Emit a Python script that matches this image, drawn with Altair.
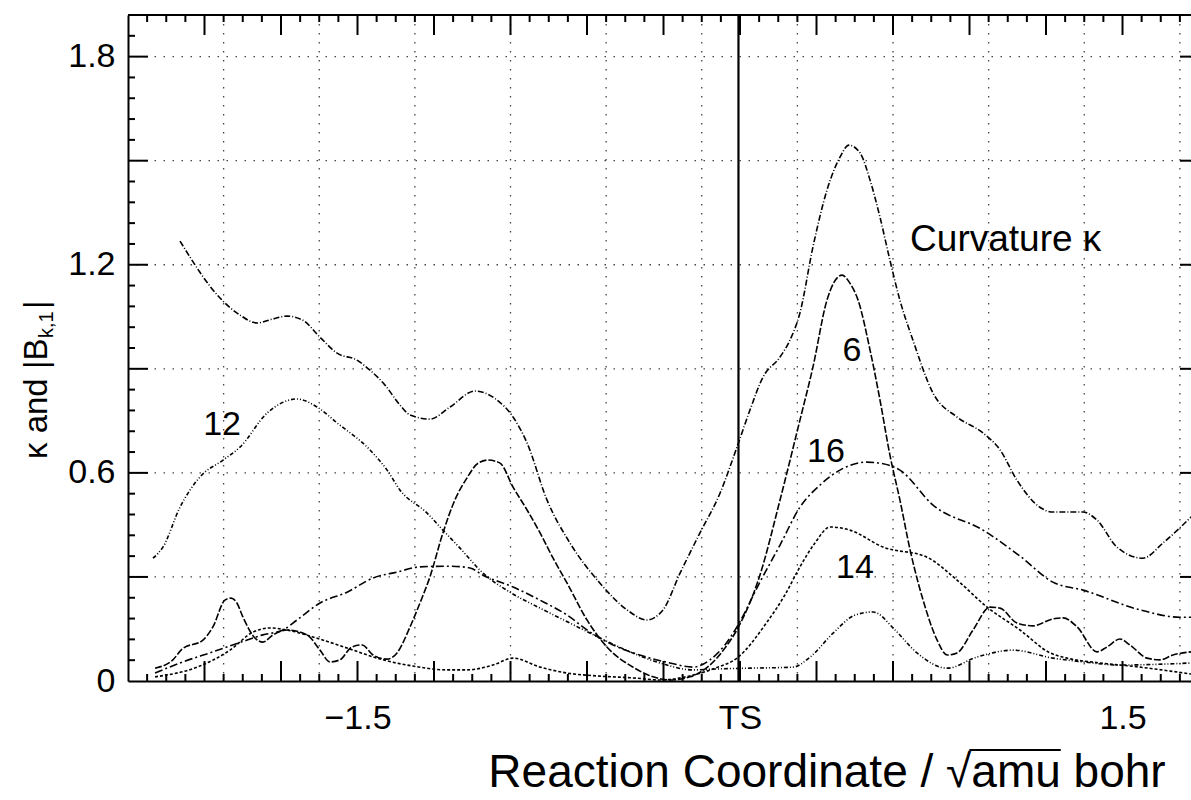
import altair as alt
import pandas as pd

FONT = "Liberation Sans"

# ---------------- data ----------------
kappa_x = [-2.196, -2.039, -1.961, -1.894, -1.835, -1.776, -1.714, -1.647, -1.580, -1.502,
           -1.451, -1.392, -1.333, -1.294, -1.216, -1.137, -1.039, -0.953, -0.890, -0.835,
           -0.757, -0.667, -0.549, -0.443, -0.365, -0.302, -0.235, -0.157, -0.078, -0.012,
           0.039, 0.090, 0.157, 0.196, 0.235, 0.286, 0.341, 0.392, 0.427, 0.471,
           0.510, 0.549, 0.588, 0.627, 0.678, 0.757, 0.851, 0.953, 1.020, 1.086,
           1.176, 1.227, 1.345, 1.400, 1.478, 1.580, 1.659, 1.769]
kappa_y = [1.268, 1.104, 1.055, 1.032, 1.043, 1.052, 1.040, 0.991, 0.945, 0.925,
           0.896, 0.853, 0.795, 0.767, 0.755, 0.790, 0.836, 0.810, 0.761, 0.686,
           0.522, 0.398, 0.282, 0.205, 0.176, 0.205, 0.311, 0.427, 0.542, 0.674,
           0.781, 0.876, 0.934, 0.983, 1.061, 1.251, 1.415, 1.510, 1.545, 1.522,
           1.444, 1.337, 1.213, 1.098, 0.983, 0.830, 0.761, 0.715, 0.666, 0.579,
           0.501, 0.487, 0.487, 0.464, 0.386, 0.354, 0.398, 0.473]

b12_x = [-2.302, -2.263, -2.196, -2.118, -2.027, -1.961, -1.855, -1.737, -1.659, -1.580,
         -1.451, -1.384, -1.333, -1.227, -1.165, -1.098, -1.008, -0.902, -0.784, -0.667,
         -0.549, -0.431, -0.314, -0.184, -0.078, 0.039, 0.208, 0.275, 0.365, 0.451,
         0.522, 0.608, 0.694, 0.812, 0.929, 1.071, 1.227, 1.345, 1.490, 1.769]
b12_y = [0.354, 0.386, 0.501, 0.588, 0.637, 0.674, 0.772, 0.813, 0.790, 0.744,
         0.666, 0.608, 0.550, 0.484, 0.435, 0.383, 0.311, 0.256, 0.210, 0.167,
         0.124, 0.084, 0.052, 0.032, 0.035, 0.037, 0.040, 0.069, 0.138, 0.190,
         0.199, 0.147, 0.081, 0.037, 0.069, 0.089, 0.066, 0.055, 0.046, 0.052]

b6_x = [-2.294, -2.224, -2.188, -2.106, -2.067, -2.020, -1.996, -1.973, -1.949, -1.902,
        -1.871, -1.831, -1.776, -1.698, -1.647, -1.608, -1.569, -1.522, -1.482, -1.439,
        -1.384, -1.345, -1.294, -1.255, -1.216, -1.165, -1.118, -1.071, -1.027, -0.988,
        -0.941, -0.890, -0.835, -0.784, -0.733, -0.678, -0.600, -0.522, -0.420, -0.341,
        -0.275, -0.196, -0.118, -0.059, -0.008, 0.078, 0.157, 0.235, 0.286, 0.341,
        0.369, 0.400, 0.431, 0.463, 0.510, 0.549, 0.588, 0.627, 0.667, 0.718,
        0.773, 0.812, 0.851, 0.914, 0.980, 1.020, 1.086, 1.149, 1.227, 1.267,
        1.322, 1.400, 1.439, 1.490, 1.529, 1.596, 1.647, 1.698, 1.769]
b6_y = [0.037, 0.061, 0.092, 0.118, 0.156, 0.233, 0.239, 0.225, 0.184, 0.124,
        0.112, 0.133, 0.147, 0.133, 0.089, 0.055, 0.061, 0.098, 0.104, 0.075,
        0.063, 0.081, 0.156, 0.225, 0.300, 0.427, 0.522, 0.585, 0.628, 0.637,
        0.628, 0.559, 0.493, 0.427, 0.354, 0.282, 0.176, 0.098, 0.040, 0.012,
        0.003, 0.012, 0.046, 0.095, 0.153, 0.305, 0.522, 0.752, 0.905, 1.098,
        1.150, 1.170, 1.147, 1.098, 0.954, 0.810, 0.651, 0.522, 0.378, 0.233,
        0.118, 0.075, 0.081, 0.147, 0.213, 0.210, 0.167, 0.159, 0.179, 0.182,
        0.156, 0.084, 0.098, 0.121, 0.104, 0.066, 0.061, 0.075, 0.084]

b16_x = [-2.294, -2.196, -2.067, -1.933, -1.871, -1.792, -1.737, -1.647, -1.541, -1.439,
         -1.345, -1.255, -1.137, -1.059, -1.008, -0.890, -0.784, -0.678, -0.588, -0.498,
         -0.380, -0.275, -0.184, -0.118, -0.059, -0.008, 0.078, 0.157, 0.235, 0.314,
         0.392, 0.498, 0.549, 0.627, 0.757, 0.953, 1.098, 1.227, 1.345, 1.569,
         1.725, 1.769]
b16_y = [0.023, 0.052, 0.084, 0.118, 0.133, 0.147, 0.176, 0.225, 0.256, 0.297,
         0.314, 0.329, 0.331, 0.326, 0.305, 0.271, 0.233, 0.190, 0.141, 0.104,
         0.072, 0.052, 0.040, 0.061, 0.104, 0.161, 0.285, 0.392, 0.501, 0.565,
         0.608, 0.631, 0.628, 0.608, 0.507, 0.435, 0.360, 0.285, 0.262, 0.205,
         0.184, 0.184]

b14_x = [-2.294, -2.129, -2.000, -1.910, -1.843, -1.776, -1.675, -1.541, -1.400, -1.282,
         -1.149, -1.071, -0.969, -0.890, -0.784, -0.678, -0.549, -0.420, -0.314, -0.184,
         -0.098, -0.012, 0.106, 0.176, 0.235, 0.294, 0.353, 0.431, 0.561, 0.733,
         0.851, 0.969, 1.098, 1.216, 1.282, 1.412, 1.569, 1.769]
b14_y = [0.012, 0.040, 0.089, 0.141, 0.153, 0.147, 0.127, 0.095, 0.061, 0.043,
         0.032, 0.032, 0.046, 0.066, 0.040, 0.023, 0.014, 0.009, 0.003, 0.017,
         0.037, 0.066, 0.170, 0.248, 0.329, 0.398, 0.444, 0.435, 0.386, 0.357,
         0.291, 0.213, 0.147, 0.081, 0.066, 0.052, 0.040, 0.020]

series_names = ["kappa", "12", "6", "16", "14"]
series_dash = [[6, 2, 1, 2], [4, 2, 1, 2, 1, 2], [7, 2], [8, 3, 2, 3], [3, 2]]

# axis labels
x_label_values = [-1.5, 0.0, 1.5]
x_tick_labels = ["\u22121.5", "TS", "1.5"]
y_label_values = [0.0, 0.6, 1.2, 1.8]

# curve annotations
curve_label_text = ["12", "6", "16", "14"]
curve_label_x = [-2.031, 0.439, 0.337, 0.451]
curve_label_y = [0.738, 0.951, 0.660, 0.326]
kappa_label = ["Curvature  \u03ba"]
kappa_label_x = [0.667]
kappa_label_y = [1.271]

# titles
x_title = "Reaction Coordinate / \u221aamu bohr"
y_title_main, y_title_sub, y_title_end = "\u03ba and |B", "k,1", "|"

# grid / tick positions (axis units)
grid_x = [-2.025, -1.65, -1.275, -0.9, -0.525, -0.15, 0.225, 0.6, 0.975, 1.35, 1.725]
grid_y = [0.3, 0.6, 0.9, 1.2, 1.5, 1.8]
x_major = [-2.1, -1.8, -1.5, -1.2, -0.9, -0.6, -0.3, 0.0, 0.3, 0.6, 0.9, 1.2, 1.5]
y_major = [0.3, 0.6, 0.9, 1.2, 1.5, 1.8]

X_DOMAIN = [-2.4, 1.7686]
Y_DOMAIN = [0.0, 1.92]
W, H = 1063, 666
PX_X = W / (X_DOMAIN[1] - X_DOMAIN[0])
PX_Y = H / (Y_DOMAIN[1] - Y_DOMAIN[0])

# ---------------- tables ----------------
frames = []
for name, xs, ys in [("kappa", kappa_x, kappa_y), ("12", b12_x, b12_y), ("6", b6_x, b6_y),
                     ("16", b16_x, b16_y), ("14", b14_x, b14_y)]:
    assert len(xs) == len(ys), name
    frames.append(pd.DataFrame({"x": xs, "y": ys, "series": name, "order": list(range(len(xs)))}))
curves = pd.concat(frames, ignore_index=True)

# tick marks (inward, on the frame)
x_minor = [round(-2.325 + 0.075 * k, 4) for k in range(0, 56)]
x_minor = [v for v in x_minor if v < X_DOMAIN[1] and min(abs(v - m) for m in x_major) > 1e-6]
y_minor = [round(0.06 * k, 4) for k in range(1, 32)]
y_minor = [v for v in y_minor if min(abs(v - m) for m in y_major) > 1e-6]

maj_y_len = 20 / PX_Y
min_y_len = 7 / PX_Y
maj_x_len = 20 / PX_X
min_x_len = 7 / PX_X

xt_rows = []
for v in x_major:
    xt_rows.append({"v": v, "y0": 0.0, "y1": maj_y_len})
    xt_rows.append({"v": v, "y0": Y_DOMAIN[1], "y1": Y_DOMAIN[1] - maj_y_len})
for v in x_minor:
    xt_rows.append({"v": v, "y0": 0.0, "y1": min_y_len})
    xt_rows.append({"v": v, "y0": Y_DOMAIN[1], "y1": Y_DOMAIN[1] - min_y_len})
xticks = pd.DataFrame(xt_rows)

yt_rows = []
for v in y_major:
    yt_rows.append({"v": v, "x0": X_DOMAIN[0], "x1": X_DOMAIN[0] + maj_x_len})
    yt_rows.append({"v": v, "x0": X_DOMAIN[1], "x1": X_DOMAIN[1] - 11 / PX_X})
for v in y_minor:
    yt_rows.append({"v": v, "x0": X_DOMAIN[0], "x1": X_DOMAIN[0] + min_x_len})
yticks = pd.DataFrame(yt_rows)

# ---------------- scales / axes ----------------
label_expr = (f"datum.value < -0.75 ? '{x_tick_labels[0]}' : "
              f"(datum.value < 0.75 ? '{x_tick_labels[1]}' : '{x_tick_labels[2]}')")
xscale = alt.Scale(domain=X_DOMAIN, nice=False, zero=False)
yscale = alt.Scale(domain=Y_DOMAIN, nice=False, zero=False)
xaxis = alt.Axis(values=x_label_values, labelExpr=label_expr, ticks=False, grid=False,
                 domain=True, labelPadding=20, labelFontSize=34, labelFlush=False,
                 labelOverlap=False, title=None)
yaxis = alt.Axis(values=y_label_values, format=".1~f", ticks=False, grid=False,
                 domain=True, labelPadding=13, labelFontSize=34, labelFlush=False,
                 labelOverlap=False, title=None)


def X(field):
    return alt.X(field, type="quantitative", scale=xscale, axis=xaxis, title=None)


def Y(field):
    return alt.Y(field, type="quantitative", scale=yscale, axis=yaxis, title=None)


# ---------------- layers ----------------
grid_v = alt.Chart(pd.DataFrame({"gx": grid_x})).mark_rule(
    color="#444", strokeWidth=1.3, strokeDash=[1.5, 7.5]).encode(x=X("gx"))
grid_h = alt.Chart(pd.DataFrame({"gy": grid_y})).mark_rule(
    color="#444", strokeWidth=1.3, strokeDash=[1.5, 7.5]).encode(y=Y("gy"))

tick_x = alt.Chart(xticks).mark_rule(color="black", strokeWidth=2).encode(
    x=X("v"), y=Y("y0"), y2="y1")
tick_y = alt.Chart(yticks).mark_rule(color="black", strokeWidth=2).encode(
    y=Y("v"), x=X("x0"), x2="x1")

top_frame = alt.Chart(pd.DataFrame({"yt": [Y_DOMAIN[1]]})).mark_rule(
    color="black", strokeWidth=2).encode(y=Y("yt"))
ts_line = alt.Chart(pd.DataFrame({"xts": [-0.006]})).mark_rule(
    color="black", strokeWidth=2.2).encode(x=X("xts"))

lines = alt.Chart(curves).mark_line(interpolate="monotone", color="black", strokeWidth=1.6).encode(
    x=X("x"), y=Y("y"), order="order:Q",
    detail="series:N",
    strokeDash=alt.StrokeDash("series:N", scale=alt.Scale(domain=series_names, range=series_dash),
                              legend=None),
)

labels = alt.Chart(pd.DataFrame({"t": curve_label_text, "lx": curve_label_x, "ly": curve_label_y})).mark_text(
    font=FONT, fontSize=34, color="black", align="center", baseline="middle").encode(
    x=X("lx"), y=Y("ly"), text="t:N")
klabel = alt.Chart(pd.DataFrame({"t": kappa_label, "lx": kappa_label_x, "ly": kappa_label_y})).mark_text(
    font=FONT, fontSize=37, color="black", align="left", baseline="middle").encode(
    x=X("lx"), y=Y("ly"), text="t:N")

# y-axis title: "κ and |B_{k,1}|" (rotated)
yt_main = alt.Chart(pd.DataFrame({"t": [y_title_main]})).mark_text(
    font=FONT, fontSize=33, angle=270, align="left", baseline="alphabetic", color="black").encode(
    text="t:N", x=alt.value(-81), y=alt.value(444))
yt_sub = alt.Chart(pd.DataFrame({"t": [y_title_sub]})).mark_text(
    font=FONT, fontSize=20, angle=270, align="left", baseline="alphabetic", color="black").encode(
    text="t:N", x=alt.value(-75), y=alt.value(323))
yt_bar = alt.Chart(pd.DataFrame({"t": [y_title_end]})).mark_text(
    font=FONT, fontSize=33, angle=270, align="left", baseline="alphabetic", color="black").encode(
    text="t:N", x=alt.value(-81), y=alt.value(294))

# x-axis title: single text, with the vinculum of the square root drawn over "amu"
TFS = 46
XC, XB = 699, 772
em_before_amu = 10.498   # "Reaction Coordinate / √" in em (Arial metrics)
em_total = 14.722
em_amu = 1.945
x_amu0 = XC - em_total * TFS / 2 + em_before_amu * TFS
xt = alt.Chart(pd.DataFrame({"t": [x_title]})).mark_text(
    font=FONT, fontSize=TFS, align="center", baseline="alphabetic", color="black").encode(
    text="t:N", x=alt.value(XC), y=alt.value(XB))
vinc = alt.Chart(pd.DataFrame({"k": [1]})).mark_rule(color="black", strokeWidth=2).encode(
    x=alt.value(x_amu0 - 2), x2=alt.value(x_amu0 + em_amu * TFS), y=alt.value(XB - 37))

chart = alt.layer(
    grid_v, grid_h, tick_x, tick_y, top_frame, ts_line, lines, labels, klabel,
    yt_main, yt_sub, yt_bar, xt, vinc,
).properties(
    width=W, height=H,
    padding={"left": 128, "top": 15, "right": 0, "bottom": 115},
    autosize=alt.AutoSizeParams(type="none"),
    background="white",
).configure_view(stroke=None).configure_axis(
    labelFont=FONT, labelColor="black", domainColor="black", domainWidth=2,
)

chart.save("out.html", embed_options={"renderer": "svg", "actions": False})
